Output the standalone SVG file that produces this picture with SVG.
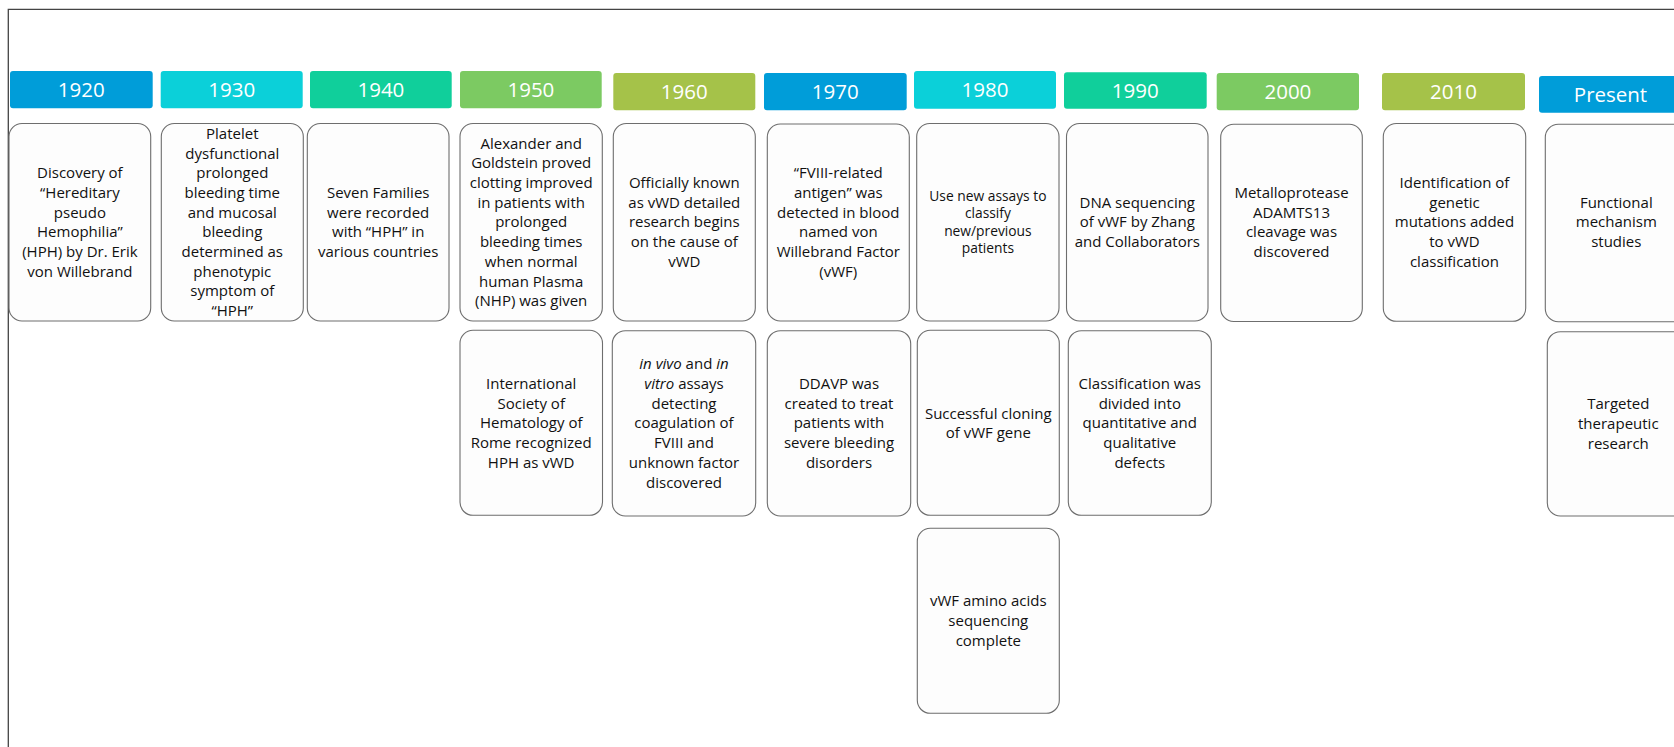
<svg xmlns="http://www.w3.org/2000/svg" width="1674" height="747" viewBox="0 0 1674 747">
<style>
.frame{fill:none;stroke:#444;stroke-width:1.3}
.hdr text{font-family:"Open Sans","Liberation Sans",sans-serif;font-size:20.5px;fill:#fff;text-anchor:middle}
.card rect{fill:#fdfdfd;stroke:#6e6e6e;stroke-width:1.1}
.card text{font-family:"Open Sans","Liberation Sans",sans-serif;font-size:15px;fill:#111;text-anchor:middle}
.card text.sm{font-size:13.8px}
.c1{fill:#009dd9}.c2{fill:#0bd0d9}.c3{fill:#10cf9b}.c4{fill:#7cca62}.c5{fill:#a5c249}
.it{font-style:italic}
</style>
<rect x="0" y="0" width="1674" height="747" fill="#ffffff"/>
<path class="frame" d="M8.3 747 V9.3 H1674"/>
<g id="connectors"/>

<!-- Headers -->
<g id="h1920" class="hdr"><rect class="c1" x="10" y="71" width="142.7" height="37.3" rx="3"/><text x="81.3" y="97">1920</text></g>
<g id="h1930" class="hdr"><rect class="c2" x="160.7" y="71" width="142" height="37.3" rx="3"/><text x="231.7" y="97">1930</text></g>
<g id="h1940" class="hdr"><rect class="c3" x="310" y="71" width="141.7" height="37.3" rx="3"/><text x="380.9" y="97">1940</text></g>
<g id="h1950" class="hdr"><rect class="c4" x="460" y="71" width="141.7" height="37.3" rx="3"/><text x="530.9" y="97">1950</text></g>
<g id="h1960" class="hdr"><rect class="c5" x="613.3" y="73" width="142" height="37.3" rx="3"/><text x="684.3" y="99">1960</text></g>
<g id="h1970" class="hdr"><rect class="c1" x="764" y="73" width="142.7" height="37.3" rx="3"/><text x="835.3" y="99">1970</text></g>
<g id="h1980" class="hdr"><rect class="c2" x="914" y="71" width="142" height="37.7" rx="3"/><text x="985" y="97.2">1980</text></g>
<g id="h1990" class="hdr"><rect class="c3" x="1064" y="72.3" width="142.7" height="36.4" rx="3"/><text x="1135.3" y="97.8">1990</text></g>
<g id="h2000" class="hdr"><rect class="c4" x="1216.7" y="73" width="142.3" height="37.3" rx="3"/><text x="1287.9" y="99">2000</text></g>
<g id="h2010" class="hdr"><rect class="c5" x="1382" y="73" width="143" height="37.3" rx="3"/><text x="1453.5" y="99">2010</text></g>
<g id="hPresent" class="hdr"><rect class="c1" x="1539" y="76" width="142" height="36.7" rx="3"/><text x="1610.5" y="101.5">Present</text></g>

<!-- Row 1 cards -->
<g id="n1920a" class="card"><rect x="9" y="123.5" width="141.7" height="197.5" rx="13"/>
<text><tspan x="79.9" y="178.2">Discovery of</tspan><tspan x="79.9" y="197.9">“Hereditary</tspan><tspan x="79.9" y="217.6">pseudo</tspan><tspan x="79.9" y="237.3">Hemophilia”</tspan><tspan x="79.9" y="256.9">(HPH) by Dr. Erik</tspan><tspan x="79.9" y="276.6">von Willebrand</tspan></text></g>

<g id="n1930a" class="card"><rect x="161.3" y="123.5" width="142" height="197.5" rx="13"/>
<text><tspan x="232.3" y="138.8">Platelet</tspan><tspan x="232.3" y="158.5">dysfunctional</tspan><tspan x="232.3" y="178.2">prolonged</tspan><tspan x="232.3" y="197.9">bleeding time</tspan><tspan x="232.3" y="217.6">and mucosal</tspan><tspan x="232.3" y="237.3">bleeding</tspan><tspan x="232.3" y="256.9">determined as</tspan><tspan x="232.3" y="276.6">phenotypic</tspan><tspan x="232.3" y="296.3">symptom of</tspan><tspan x="232.3" y="316">“HPH”</tspan></text></g>

<g id="n1940a" class="card"><rect x="307.3" y="123.5" width="141.7" height="197.5" rx="13"/>
<text><tspan x="378.2" y="197.9">Seven Families</tspan><tspan x="378.2" y="217.6">were recorded</tspan><tspan x="378.2" y="237.3">with “HPH” in</tspan><tspan x="378.2" y="256.9">various countries</tspan></text></g>

<g id="n1950a" class="card"><rect x="460" y="123.5" width="142.3" height="197.5" rx="13"/>
<text><tspan x="531.2" y="148.6">Alexander and</tspan><tspan x="531.2" y="168.3">Goldstein proved</tspan><tspan x="531.2" y="188">clotting improved</tspan><tspan x="531.2" y="207.7">in patients with</tspan><tspan x="531.2" y="227.4">prolonged</tspan><tspan x="531.2" y="247.1">bleeding times</tspan><tspan x="531.2" y="266.8">when normal</tspan><tspan x="531.2" y="286.5">human Plasma</tspan><tspan x="531.2" y="306.2">(NHP) was given</tspan></text></g>

<g id="n1960a" class="card"><rect x="613.3" y="123.5" width="142" height="197.5" rx="13"/>
<text><tspan x="684.3" y="188">Officially known</tspan><tspan x="684.3" y="207.7">as vWD detailed</tspan><tspan x="684.3" y="227.4">research begins</tspan><tspan x="684.3" y="247.1">on the cause of</tspan><tspan x="684.3" y="266.8">vWD</tspan></text></g>

<g id="n1970a" class="card"><rect x="767.3" y="124" width="142" height="197" rx="13"/>
<text><tspan x="838.3" y="178.2">“FVIII-related</tspan><tspan x="838.3" y="197.9">antigen” was</tspan><tspan x="838.3" y="217.6">detected in blood</tspan><tspan x="838.3" y="237.3">named von</tspan><tspan x="838.3" y="256.9">Willebrand Factor</tspan><tspan x="838.3" y="276.6">(vWF)</tspan></text></g>

<g id="n1980a" class="card"><rect x="916.7" y="123.5" width="142.3" height="197.5" rx="13"/>
<text class="sm"><tspan x="987.9" y="200.9">Use new assays to</tspan><tspan x="987.9" y="218.2">classify</tspan><tspan x="987.9" y="235.5">new/previous</tspan><tspan x="987.9" y="252.8">patients</tspan></text></g>

<g id="n1990a" class="card"><rect x="1066.5" y="123.5" width="141.5" height="197.5" rx="13"/>
<text><tspan x="1137.3" y="207.7">DNA sequencing</tspan><tspan x="1137.3" y="227.4">of vWF by Zhang</tspan><tspan x="1137.3" y="247.1">and Collaborators</tspan></text></g>

<g id="n2000a" class="card"><rect x="1220.7" y="124.3" width="141.6" height="197.2" rx="13"/>
<text><tspan x="1291.5" y="197.9">Metalloprotease</tspan><tspan x="1291.5" y="217.6">ADAMTS13</tspan><tspan x="1291.5" y="237.3">cleavage was</tspan><tspan x="1291.5" y="256.9">discovered</tspan></text></g>

<g id="n2010a" class="card"><rect x="1383.3" y="123.5" width="142.4" height="197.8" rx="13"/>
<text><tspan x="1454.5" y="188">Identification of</tspan><tspan x="1454.5" y="207.7">genetic</tspan><tspan x="1454.5" y="227.4">mutations added</tspan><tspan x="1454.5" y="247.1">to vWD</tspan><tspan x="1454.5" y="266.8">classification</tspan></text></g>

<g id="nPresentA" class="card"><rect x="1545.3" y="124.3" width="142" height="197.4" rx="13"/>
<text><tspan x="1616.3" y="207.7">Functional</tspan><tspan x="1616.3" y="227.4">mechanism</tspan><tspan x="1616.3" y="247.1">studies</tspan></text></g>

<!-- Row 2 cards -->
<g id="n1950b" class="card"><rect x="460" y="330.3" width="142.5" height="185" rx="13"/>
<text><tspan x="531.2" y="389">International</tspan><tspan x="531.2" y="408.7">Society of</tspan><tspan x="531.2" y="428.4">Hematology of</tspan><tspan x="531.2" y="448.1">Rome recognized</tspan><tspan x="531.2" y="467.8">HPH as vWD</tspan></text></g>

<g id="n1960b" class="card"><rect x="612.3" y="330.7" width="143.4" height="185.3" rx="13"/>
<text><tspan x="684" y="369.3"><tspan class="it">in vivo</tspan> and <tspan class="it">in</tspan></tspan><tspan x="684" y="389"><tspan class="it">vitro</tspan> assays</tspan><tspan x="684" y="408.7">detecting</tspan><tspan x="684" y="428.4">coagulation of</tspan><tspan x="684" y="448.1">FVIII and</tspan><tspan x="684" y="467.8">unknown factor</tspan><tspan x="684" y="487.5">discovered</tspan></text></g>

<g id="n1970b" class="card"><rect x="767.3" y="330.7" width="143.4" height="185.3" rx="13"/>
<text><tspan x="839" y="389">DDAVP was</tspan><tspan x="839" y="408.7">created to treat</tspan><tspan x="839" y="428.4">patients with</tspan><tspan x="839" y="448.1">severe bleeding</tspan><tspan x="839" y="467.8">disorders</tspan></text></g>

<g id="n1980b" class="card"><rect x="917.3" y="330.3" width="142" height="185" rx="13"/>
<text><tspan x="988.3" y="418.6">Successful cloning</tspan><tspan x="988.3" y="438.3">of vWF gene</tspan></text></g>

<g id="n1990b" class="card"><rect x="1068.3" y="330.7" width="143" height="184.6" rx="13"/>
<text><tspan x="1139.8" y="389">Classification was</tspan><tspan x="1139.8" y="408.7">divided into</tspan><tspan x="1139.8" y="428.4">quantitative and</tspan><tspan x="1139.8" y="448.1">qualitative</tspan><tspan x="1139.8" y="467.8">defects</tspan></text></g>

<g id="nPresentB" class="card"><rect x="1547.3" y="331.7" width="142" height="184.3" rx="13"/>
<text><tspan x="1618.3" y="409.3">Targeted</tspan><tspan x="1618.3" y="429">therapeutic</tspan><tspan x="1618.3" y="448.7">research</tspan></text></g>

<!-- Row 3 card -->
<g id="n1980c" class="card"><rect x="917.3" y="528.3" width="142" height="185" rx="13"/>
<text><tspan x="988.3" y="606.3">vWF amino acids</tspan><tspan x="988.3" y="626">sequencing</tspan><tspan x="988.3" y="645.7">complete</tspan></text></g>
</svg>
